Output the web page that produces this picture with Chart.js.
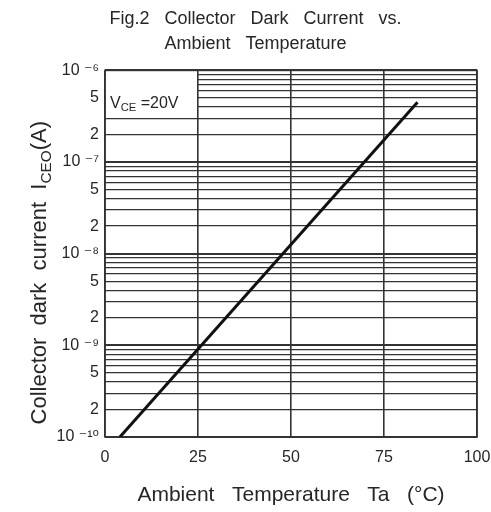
<!DOCTYPE html>
<html>
<head>
<meta charset="utf-8">
<script src="https://cdn.jsdelivr.net/npm/chart.js@4"></script>
<style>
html, body { margin: 0; background: #fff; }
#wrap { width: 491px; height: 512px; }
</style>
</head>
<body>
<div id="wrap"><canvas id="myChart"></canvas></div>
<script>
// data
const temps = [4, 84];
const darkCurrent = [1e-10, 4.5e-7];
const xTicks = [0, 25, 50, 75, 100];
const yDecades = [-10, -9, -8, -7, -6];
const yLabelled = [1, 2, 5];
const noteText = [['V', false], ['CE', true], [' =20V', false]];
const yTitle = [['Collector  dark  current  I', false], ['CEO', true], ['(A)', false]];
const noteBox = { xMax: 25, yMin: 3.2e-7 };

const yTickValues = [];
yDecades.forEach(function (e) {
	const top = e === yDecades[yDecades.length - 1] ? 1 : 9;
	for (let m = 1; m <= top; m++) yTickValues.push(m * Math.pow(10, e));
});

const FONT = '"Liberation Sans", "DejaVu Sans", sans-serif';
const INK = '#262626';
const SUP = { '-': '\u207b', '0': '\u2070', '1': '\u00b9', '2': '\u00b2', '3': '\u00b3', '4': '\u2074', '5': '\u2075', '6': '\u2076', '7': '\u2077', '8': '\u2078', '9': '\u2079' };

function expOf(v) { return Math.floor(Math.log10(v) + 1e-9); }
function mantOf(v) { return Math.round(v / Math.pow(10, expOf(v))); }

function drawRich(ctx, parts, x, y, size, align) {
	const sub = size * 0.7;
	let w = 0;
	parts.forEach(function (p) {
		ctx.font = (p[1] ? sub : size) + 'px ' + FONT;
		w += ctx.measureText(p[0]).width;
	});
	let cx = align === 'center' ? x - w / 2 : x;
	parts.forEach(function (p) {
		ctx.font = (p[1] ? sub : size) + 'px ' + FONT;
		ctx.fillText(p[0], cx, p[1] ? y + size * 0.3 : y);
		cx += ctx.measureText(p[0]).width;
	});
}

const decor = {
	id: 'decor',
	beforeDatasetsDraw(chart) {
		const { ctx, chartArea: a, scales: { x, y } } = chart;
		ctx.save();
		const bx = x.getPixelForValue(noteBox.xMax);
		const by = y.getPixelForValue(noteBox.yMin);
		ctx.fillStyle = '#fff';
		ctx.fillRect(a.left + 1, a.top + 1, bx - a.left - 2, by - a.top);
		ctx.strokeStyle = '#333';
		ctx.lineWidth = 1.6;
		ctx.strokeRect(a.left, a.top, a.right - a.left, a.bottom - a.top);
		ctx.fillStyle = INK;
		ctx.textBaseline = 'middle';
		drawRich(ctx, noteText, a.left + 5, a.top + 33, 16, 'left');
		ctx.restore();
	},
	afterDraw(chart) {
		const { ctx, chartArea: a } = chart;
		ctx.save();
		ctx.translate(40, (a.top + a.bottom) / 2 + 19);
		ctx.rotate(-Math.PI / 2);
		ctx.fillStyle = INK;
		ctx.textBaseline = 'middle';
		drawRich(ctx, yTitle, 0, 0, 22, 'center');
		ctx.restore();
	}
};

const ctx1 = document.getElementById('myChart').getContext('2d');

const chart = new Chart(ctx1, {
	type: 'line',
	data: {
		datasets: [
			{
				data: temps.map(function (t, i) { return { x: t, y: darkCurrent[i] }; }),
				borderColor: '#111',
				borderWidth: 3,
				pointRadius: 0,
				fill: false
			}
		]
	},
	plugins: [ decor ],
	options: {
		responsive: true,
		maintainAspectRatio: false,
		animation: false,
		layout: { padding: { left: 34, right: 14, top: 0, bottom: 0 } },
		plugins: {
			legend: { display: false },
			tooltip: { enabled: false },
			title: {
				display: true,
				text: [ 'Fig.2   Collector   Dark   Current   vs.', 'Ambient   Temperature' ],
				color: INK,
				font: { family: FONT, size: 18, weight: 'normal', lineHeight: 1.4 },
				padding: { top: 6, bottom: 14 }
			}
		},
		scales: {
			x: {
				type: 'linear',
				min: 0,
				max: 100,
				afterBuildTicks: function (s) { s.ticks = xTicks.map(function (v) { return { value: v }; }); },
				afterFit: function (s) { s.height = 75; s.paddingLeft = 0; s.paddingRight = 0; },
				ticks: { color: INK, font: { family: FONT, size: 16 }, padding: 11 },
				grid: { color: '#333', lineWidth: 1.6, drawTicks: false },
				border: { display: false },
				title: {
					display: true,
					text: 'Ambient   Temperature   Ta   (\u00b0C)',
					color: INK,
					font: { family: FONT, size: 21 },
					padding: { top: 4 }
				}
			},
			y: {
				type: 'logarithmic',
				min: 1e-10,
				max: 1e-6,
				afterBuildTicks: function (s) { s.ticks = yTickValues.map(function (v) { return { value: v }; }); },
				afterFit: function (s) { s.width = 71; },
				ticks: {
					autoSkip: false,
					color: INK,
					font: { family: FONT, size: 16 },
					padding: 6,
					callback: function (v) {
						const m = mantOf(v);
						if (yLabelled.indexOf(m) < 0) return '';
						if (m === 1) return '10 ' + String(expOf(v)).split('').map(function (c) { return SUP[c]; }).join('');
						return String(m);
					}
				},
				grid: {
					color: '#333',
					lineWidth: function (c) { return c.tick && mantOf(c.tick.value) === 1 ? 2 : 1.3; },
					drawTicks: false
				},
				border: { display: false }
			}
		}
	}
});
</script>
</body>
</html>
